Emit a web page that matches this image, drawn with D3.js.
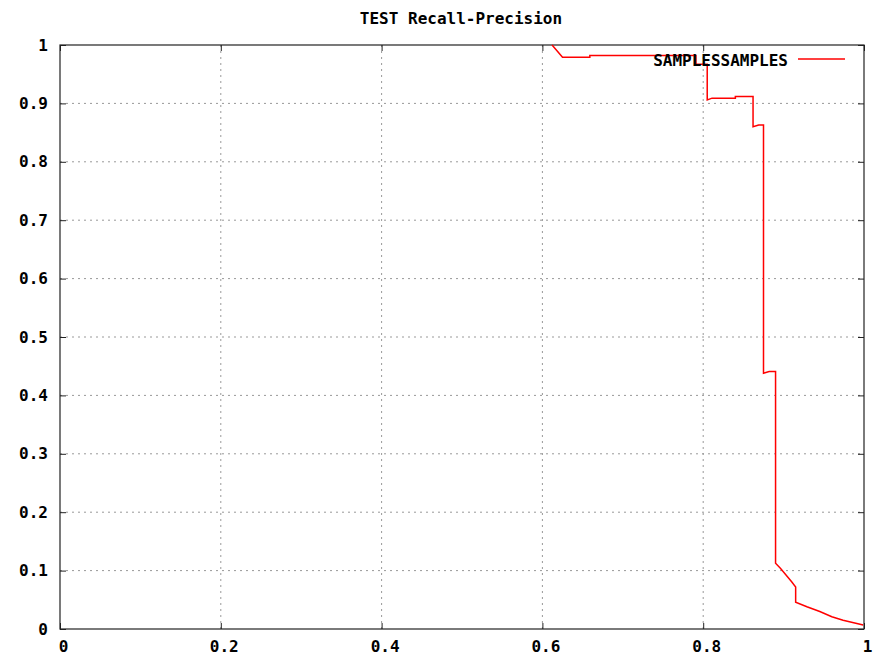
<!DOCTYPE html>
<html>
<head>
<meta charset="utf-8">
<script src="https://cdn.jsdelivr.net/npm/d3@7"></script>
<style>
  body { margin: 0; background: #fff; }
  text { font-family: 'DejaVu Sans Mono', 'Liberation Mono', monospace; font-weight: bold; font-size: 16px; fill: #000; }
</style>
</head>
<body>
<div class="chart"></div>
<script>
// recall / precision pairs (step corners)
var recall = [0.612, 0.625, 0.659, 0.659, 0.791, 0.791, 0.805, 0.805, 0.811, 0.840, 0.840,
  0.862, 0.862, 0.869, 0.875, 0.875, 0.882, 0.890, 0.890, 0.896, 0.910, 0.915, 0.915,
  0.929, 0.945, 0.960, 0.974, 0.999]
var precision = [1.0, 0.979, 0.979, 0.982, 0.982, 0.967, 0.967, 0.906, 0.909, 0.909, 0.912,
  0.912, 0.860, 0.863, 0.863, 0.438, 0.441, 0.441, 0.1125, 0.104, 0.081, 0.072, 0.046,
  0.038, 0.030, 0.021, 0.015, 0.007]

var xTicks = [0, 0.2, 0.4, 0.6, 0.8, 1]
var yTicks = [0, 0.1, 0.2, 0.3, 0.4, 0.5, 0.6, 0.7, 0.8, 0.9, 1]
var seriesName = 'SAMPLESSAMPLES'
var title = 'TEST Recall-Precision'

var W = 883, H = 657
var m = { top: 45, right: 19, bottom: 28, left: 60 }

var x = d3.scaleLinear().domain([0, 1]).range([m.left, W - m.right])
var y = d3.scaleLinear().domain([0, 1]).range([H - m.bottom, m.top])

var svg = d3.select('.chart')
  .append('svg')
    .attr('width', W)
    .attr('height', H)

// dotted grid, only inside the frame
svg.append('g')
  .selectAll('line')
  .data(xTicks.filter(d => d > 0 && d < 1))
  .enter()
    .append('line')
    .attr('x1', d => x(d)).attr('x2', d => x(d))
    .attr('y1', y(0)).attr('y2', y(1))
    .attr('stroke', '#999')
    .attr('stroke-dasharray', '2,4')

svg.append('g')
  .selectAll('line')
  .data(yTicks.filter(d => d > 0 && d < 1))
  .enter()
    .append('line')
    .attr('y1', d => y(d)).attr('y2', d => y(d))
    .attr('x1', x(0)).attr('x2', x(1))
    .attr('stroke', '#999')
    .attr('stroke-dasharray', '2,4')

// gnuplot style: ticks point inward on every side
svg.append('g')
    .attr('class', 'xaxis')
    .attr('transform', 'translate(0,' + y(0) + ')')
    .call(d3.axisBottom(x).tickValues(xTicks).tickSizeInner(-6).tickSizeOuter(0).tickPadding(12).tickFormat(String))
svg.append('g')
    .attr('transform', 'translate(0,' + y(1) + ')')
    .call(d3.axisTop(x).tickValues(xTicks).tickSizeInner(-6).tickSizeOuter(0).tickFormat(''))
svg.append('g')
    .attr('transform', 'translate(' + x(0) + ',0)')
    .call(d3.axisLeft(y).tickValues(yTicks).tickSizeInner(-6).tickSizeOuter(0).tickPadding(12).tickFormat(String))
svg.append('g')
    .attr('transform', 'translate(' + x(1) + ',0)')
    .call(d3.axisRight(y).tickValues(yTicks).tickSizeInner(-6).tickSizeOuter(0).tickFormat(''))

svg.selectAll('.domain').remove()
svg.selectAll('.tick line').attr('stroke', '#222')
svg.selectAll('.tick text')
  .style('font-family', "'DejaVu Sans Mono', monospace")
  .style('font-weight', 'bold')
  .style('font-size', '16px')
  .attr('fill', '#000')
// bitmap font sat a few pixels right of the tick
svg.selectAll('.xaxis .tick text').attr('dx', 3)

// frame
svg.append('rect')
    .attr('x', x(0)).attr('y', y(1))
    .attr('width', x(1) - x(0)).attr('height', y(0) - y(1))
    .attr('fill', 'none')
    .attr('stroke', '#222')
    .attr('stroke-width', 1.2)

// the curve
var pts = recall.map((r, i) => [r, precision[i]])
svg.append('path')
    .datum(pts)
    .attr('fill', 'none')
    .attr('stroke', '#ff0000')
    .attr('stroke-width', 1.5)
    .attr('d', d3.line().x(d => x(d[0])).y(d => y(d[1])))

// legend
svg.append('text')
    .attr('x', 788)
    .attr('y', 60)
    .attr('dy', '0.35em')
    .attr('text-anchor', 'end')
    .text(seriesName)
svg.append('line')
    .attr('x1', 798).attr('x2', 845)
    .attr('y1', 59).attr('y2', 59)
    .attr('stroke', '#ff0000')
    .attr('stroke-width', 1.5)

svg.append('text')
    .attr('x', 461)
    .attr('y', 18)
    .attr('dy', '0.35em')
    .attr('text-anchor', 'middle')
    .text(title)
</script>
</body>
</html>
